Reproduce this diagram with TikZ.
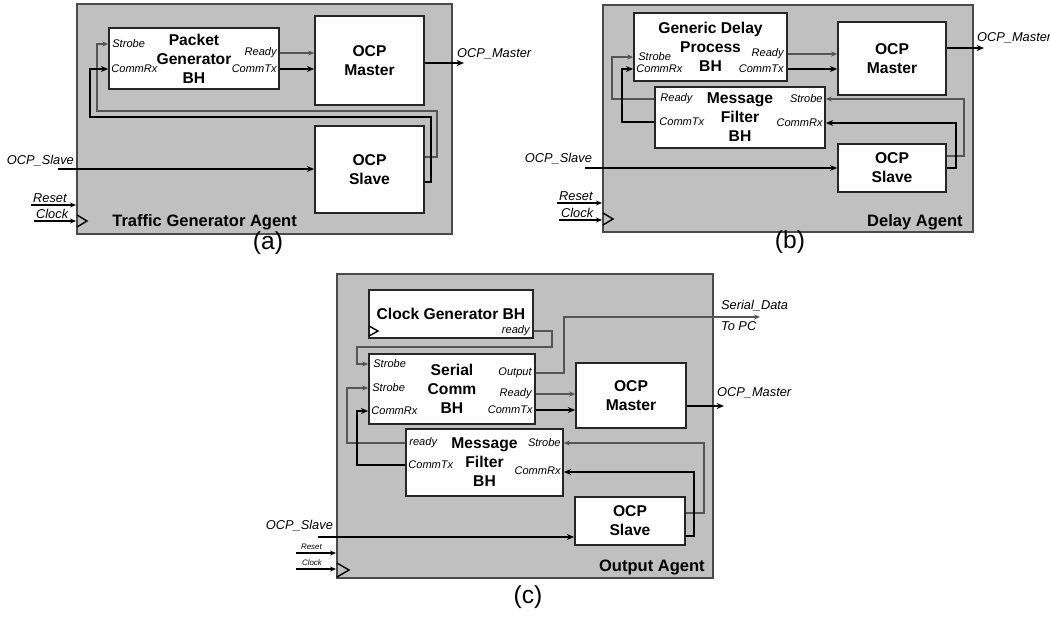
\documentclass[tikz,border=0pt]{standalone}
\usepackage{fontspec}
\setmainfont{Liberation Sans}
\usetikzlibrary{arrows.meta,positioning}

\definecolor{agentfill}{HTML}{C0C0C0}
\definecolor{agentline}{HTML}{4A4A4A}
\definecolor{wiregray}{HTML}{555555}

\begin{document}
\begin{tikzpicture}[x=0.2mm, y=-0.2mm,
  % Node styles
  agent/.style={draw=agentline, line width=1.1pt, fill=agentfill, inner sep=0pt},
  blk/.style={draw=black!85, line width=0.9pt, fill=white, inner sep=0pt,
              font=\fontsize{8.9}{10.8}\selectfont\bfseries, align=center},
  port/.style={font=\fontsize{6.3}{7}\selectfont\itshape, inner sep=0pt},
  io/.style={font=\fontsize{7.3}{8.5}\selectfont\itshape, inner sep=1pt},
  tiny/.style={font=\fontsize{4.5}{5}\selectfont\itshape, inner sep=1pt},
  ttl/.style={font=\fontsize{9.4}{11}\selectfont\bfseries, inner sep=0pt},
  capt/.style={font=\fontsize{14}{16}\selectfont, inner sep=0pt},
  % Arrow styles
  ctl/.style={-{Stealth[length=3.4pt,width=2.8pt]}, line width=0.6pt, wiregray},
  ext/.style={-{Stealth[length=3.4pt,width=2.8pt]}, line width=0.6pt, black},
  dat/.style={-{Stealth[length=4.2pt,width=3.4pt]}, line width=1.3pt, black},
  clk/.style={draw=black, line width=0.8pt},
]
\useasboundingbox (0,0) rectangle (1050,617);

% === (a) Traffic Generator Agent ===
\node[agent, minimum width=75mm, minimum height=46mm] (AgentA) at (264.5,119) {};
\node[blk, minimum width=34mm, minimum height=12.2mm] (PGen) at (194,58.5) {Packet\\Generator\\BH};
\node[blk, minimum width=21.8mm, minimum height=17.8mm] (MstA) at (369.5,60.5) {OCP\\Master};
\node[blk, minimum width=21.8mm, minimum height=17.4mm] (SlvA) at (369.5,169.5) {OCP\\Slave};

\node[port, anchor=west] (stbA) at (112,44) {Strobe};
\node[port, anchor=west] (crxA) at (111,69) {CommRx};
\node[port, anchor=east] (rdyA) at (277,53) {Ready};
\node[port, anchor=east] (ctxA) at (277,69) {CommTx};

\draw[ctl] (PGen.east |- rdyA) -- (MstA.west |- rdyA);
\draw[dat] (PGen.east |- ctxA) -- (MstA.west |- ctxA);
\draw[ctl] (SlvA.east |- 0,157) -| (437,111) -| (97,44) -- (PGen.west |- stbA);
\draw[dat] (SlvA.east |- 0,182) -| (431,117) -| (90,69) -- (PGen.west |- crxA);

% external pins
\node[io, anchor=south east] (sinA) at (76,168) {OCP\_Slave};
\coordinate (sinAs) at (58,169);
\draw[dat] (sinAs) -- (SlvA.west |- sinAs);
\node[io, anchor=south west] (moutA) at (455,61) {OCP\_Master};
\coordinate (moutAe) at (464,63);
\draw[dat] (MstA.east |- moutAe) -- (moutAe);
\node[io, anchor=south west] (rstA) at (31,205) {Reset};
\node[io, anchor=south west] (ckA) at (34,221) {Clock};
\draw[ext] (rstA.south west) -- (AgentA.west |- rstA.south);
\draw[ext] (ckA.south west) -- (AgentA.west |- ckA.south);
\draw[clk] (77,215) -- (87,221) -- (77,227);

\node[ttl, anchor=west] (tA) at (112,222) {Traffic Generator Agent};
\node[capt] (capA) at (268,243) {(a)};

% === (b) Delay Agent ===
\node[agent, minimum width=74mm, minimum height=45.4mm] (AgentB) at (788,118.5) {};
\node[blk, minimum width=30.6mm, minimum height=13.6mm] (GDel) at (710.5,47) {Generic Delay\\Process\\BH};
\node[blk, minimum width=34mm, minimum height=12.2mm] (MFiltB) at (740,117.5) {Message\\Filter\\BH};
\node[blk, minimum width=21.6mm, minimum height=14.6mm] (MstB) at (892,58.5) {OCP\\Master};
\node[blk, minimum width=21.6mm, minimum height=9.6mm] (SlvB) at (892,168) {OCP\\Slave};

\node[port, anchor=west] (stbB) at (638,57) {Strobe};
\node[port, anchor=west] (crxB) at (636,69) {CommRx};
\node[port, anchor=east] (rdyB) at (784,54) {Ready};
\node[port, anchor=east] (ctxB) at (784,69) {CommTx};
\node[port, anchor=west] (frdyB) at (660,99) {Ready};
\node[port, anchor=west] (fctxB) at (659,122) {CommTx};
\node[port, anchor=east] (fstbB) at (823,99) {Strobe};
\node[port, anchor=east] (fcrxB) at (823,123) {CommRx};

\draw[ctl] (GDel.east |- rdyB) -- (MstB.west |- rdyB);
\draw[dat] (GDel.east |- ctxB) -- (MstB.west |- ctxB);
\draw[ctl] (MFiltB.west |- frdyB) -| (612,57) -- (GDel.west |- stbB);
\draw[dat] (MFiltB.west |- fctxB) -| (622,69) -- (GDel.west |- crxB);
\draw[ctl] (SlvB.east |- 0,156) -| (964,99) -- (MFiltB.east |- fstbB);
\draw[dat] (SlvB.east |- 0,168) -| (956,123) -- (MFiltB.east |- fcrxB);

% external pins
\node[io, anchor=south east] (sinB) at (594,166) {OCP\_Slave};
\coordinate (sinBs) at (585,168);
\draw[dat] (sinBs) -- (SlvB.west |- sinBs);
\node[io, anchor=south west] (moutB) at (975,45) {OCP\_Master};
\coordinate (moutBe) at (984,48);
\draw[dat] (MstB.east |- moutBe) -- (moutBe);
\node[io, anchor=south west] (rstB) at (557,203) {Reset};
\node[io, anchor=south west] (ckB) at (559,220) {Clock};
\draw[ext] (rstB.south west) -- (AgentB.west |- rstB.south);
\draw[ext] (ckB.south west) -- (AgentB.west |- ckB.south);
\draw[clk] (603,213) -- (613,219) -- (603,225);

\node[ttl, anchor=east] (tB) at (963,222) {Delay Agent};
\node[capt] (capB) at (790,242) {(b)};

% === (c) Output Agent ===
\node[agent, minimum width=75.2mm, minimum height=60.8mm] (AgentC) at (525,426) {};
\node[blk, minimum width=32.8mm, minimum height=9.6mm] (ClkGen) at (451,314) {Clock Generator BH};
\node[blk, minimum width=33.2mm, minimum height=14mm] (SComm) at (452,389) {Serial\\Comm\\BH};
\node[blk, minimum width=22mm, minimum height=13mm] (MstC) at (631,395.5) {OCP\\Master};
\node[blk, minimum width=31.4mm, minimum height=13.4mm] (MFiltC) at (484.5,462.5) {Message\\Filter\\BH};
\node[blk, minimum width=22mm, minimum height=9.6mm] (SlvC) at (630,521) {OCP\\Slave};

\node[port, anchor=east] (crdyC) at (530,331) {ready};
\node[port, anchor=west] (stb1C) at (373,364) {Strobe};
\node[port, anchor=west] (stb2C) at (372,388) {Strobe};
\node[port, anchor=west] (crxC) at (371,411) {CommRx};
\node[port, anchor=east] (outC) at (532,373) {Output};
\node[port, anchor=east] (rdyC) at (532,394) {Ready};
\node[port, anchor=east] (ctxC) at (533,410) {CommTx};
\node[port, anchor=west] (frdyC) at (409,443) {ready};
\node[port, anchor=west] (fctxC) at (408,465) {CommTx};
\node[port, anchor=east] (fstbC) at (561,443) {Strobe};
\node[port, anchor=east] (fcrxC) at (561,471) {CommRx};

\draw[clk] (369,326) -- (378,331) -- (369,336);
\draw[ctl] (ClkGen.east |- crdyC) -| (552,347) -| (357,364) -- (SComm.west |- stb1C);
\draw[ctl] (SComm.east |- outC) -| (564,317) -- (760,317) coordinate (sdC);
\draw[ctl] (SComm.east |- rdyC) -- (MstC.west |- rdyC);
\draw[dat] (SComm.east |- ctxC) -- (MstC.west |- ctxC);
\draw[ctl] (MFiltC.west |- frdyC) -| (347,388) -- (SComm.west |- stb2C);
\draw[dat] (MFiltC.west |- fctxC) -| (357,411) -- (SComm.west |- crxC);
\draw[ctl] (SlvC.east |- 0,513) -| (704,443) -- (MFiltC.east |- fstbC);
\draw[dat] (SlvC.east |- 0,536) -| (694,472) -- (MFiltC.east |- 0,472);

% external pins
\node[io, anchor=south west] (sdTop) at (719,313) {Serial\_Data};
\node[io, anchor=north west] (sdBot) at (719,319) {To PC};
\node[io, anchor=south east] (sinC) at (335,533) {OCP\_Slave};
\coordinate (sinCs) at (318,537);
\draw[dat] (sinCs) -- (SlvC.west |- sinCs);
\node[io, anchor=south west] (moutC) at (715,400) {OCP\_Master};
\coordinate (moutCe) at (724,406);
\draw[dat] (MstC.east |- moutCe) -- (moutCe);
\node[tiny, anchor=south west] (rstC) at (299,552) {Reset};
\node[tiny, anchor=south west] (ckC) at (300,568) {Clock};
\coordinate (rstCs) at (296,553);
\coordinate (ckCs) at (296,569);
\draw[ext] (rstCs) -- (AgentC.west |- rstCs);
\draw[ext] (ckCs) -- (AgentC.west |- ckCs);
\draw[clk] (337,563) -- (349,570) -- (337,577);

\node[ttl, anchor=east] (tC) at (705,567) {Output Agent};
\node[capt] (capC) at (528,597) {(c)};

\end{tikzpicture}
\end{document}
